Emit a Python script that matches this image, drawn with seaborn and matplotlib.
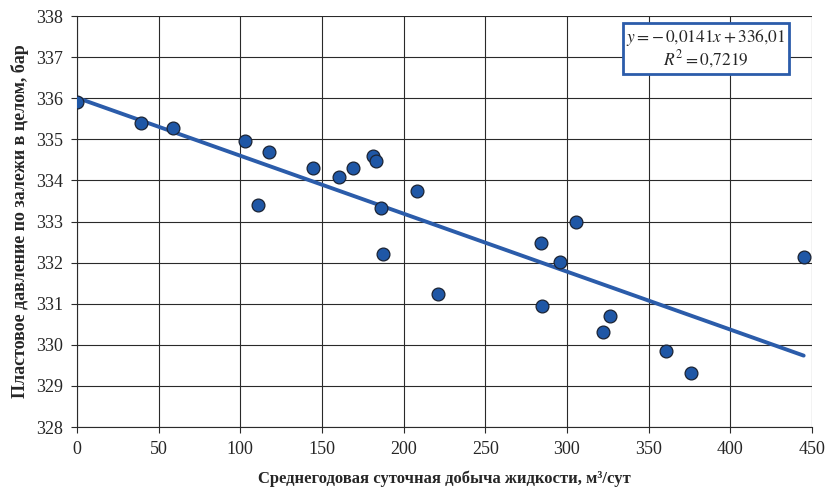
import matplotlib
matplotlib.use("Agg")
import matplotlib.pyplot as plt
import seaborn as sns
import pandas as pd
import numpy as np

# Average annual daily liquid production, m3/day
production = [0.0, 39.2, 58.9, 102.8, 110.9, 117.7, 144.6, 160.3, 169.1, 181.0, 183.0,
              185.9, 187.4, 208.3, 221.1, 283.8, 284.8, 295.8, 305.8, 321.9, 326.6,
              360.6, 375.9, 444.9]
# Reservoir pressure for the whole deposit, bar
pressure = [335.91, 335.39, 335.28, 334.95, 333.40, 334.70, 334.29, 334.08, 334.29, 334.60,
            334.47, 333.33, 332.21, 333.74, 331.23, 332.47, 330.94, 332.02, 333.00, 330.30,
            330.69, 329.86, 329.32, 332.14]

# Linear trend coefficients shown in the equation box
slope = -0.0141
intercept = 336.01
r_squared = 0.7219

x_ticks = [0, 50, 100, 150, 200, 250, 300, 350, 400, 450]
y_ticks = [328, 329, 330, 331, 332, 333, 334, 335, 336, 337, 338]

sns.set_theme(style="white")
plt.rcParams["font.family"] = ["Liberation Serif", "DejaVu Serif"]
plt.rcParams["mathtext.fontset"] = "stix"

df = pd.DataFrame({"x": production, "y": pressure})
trend_x = [0.0, max(production)]
trend = pd.DataFrame({"x": trend_x, "y": [intercept + slope * v for v in trend_x]})

fig = plt.figure(figsize=(8.27, 4.90), dpi=100)
ax = fig.add_axes([77 / 827, 1 - 427 / 490, (812 - 77) / 827, (427 - 16) / 490])

sns.lineplot(data=trend, x="x", y="y", ax=ax, color="#2B5CAA", linewidth=2.8, zorder=3)
sns.scatterplot(data=df, x="x", y="y", ax=ax, s=85, color="#1F57A6",
                edgecolor="#1B2333", linewidth=0.9, zorder=4)

ax.set_xlim(0, 450)
ax.set_ylim(328, 338)
ax.set_xticks(x_ticks)
ax.set_yticks(y_ticks)
ax.set_xticklabels([str(v) for v in x_ticks])
ax.set_yticklabels([str(v) for v in y_ticks])
ax.grid(True, color="#2a2a2a", linewidth=0.8)
ax.set_axisbelow(True)
for side in ["top", "right"]:
    ax.spines[side].set_visible(False)
for side in ["left", "bottom"]:
    ax.spines[side].set_color("#2a2a2a")
    ax.spines[side].set_linewidth(0.8)
ax.tick_params(axis="both", which="major", length=4, width=0.8, color="#2a2a2a",
               labelsize=13, pad=6, direction="out", bottom=True, left=True)

ax.set_xlabel("Среднегодовая суточная добыча жидкости, м³/сут", fontsize=12,
              fontweight="bold", labelpad=9)
ax.set_ylabel("Пластовое давление по залежи в целом, бар", fontsize=13,
              fontweight="bold", labelpad=5)

eq = (r"$y = -\,0{,}0141x + 336{,}01$" + "\n" + r"$R^2 = 0{,}7219$")
ax.text(0.856, 0.92, eq, transform=ax.transAxes, ha="center", va="center",
        fontsize=12.5, linespacing=1.0, multialignment="center", zorder=6,
        bbox=dict(boxstyle="square,pad=0.2", facecolor="white",
                  edgecolor="#2B5CAA", linewidth=2))

fig.savefig("out.png", dpi=100)
